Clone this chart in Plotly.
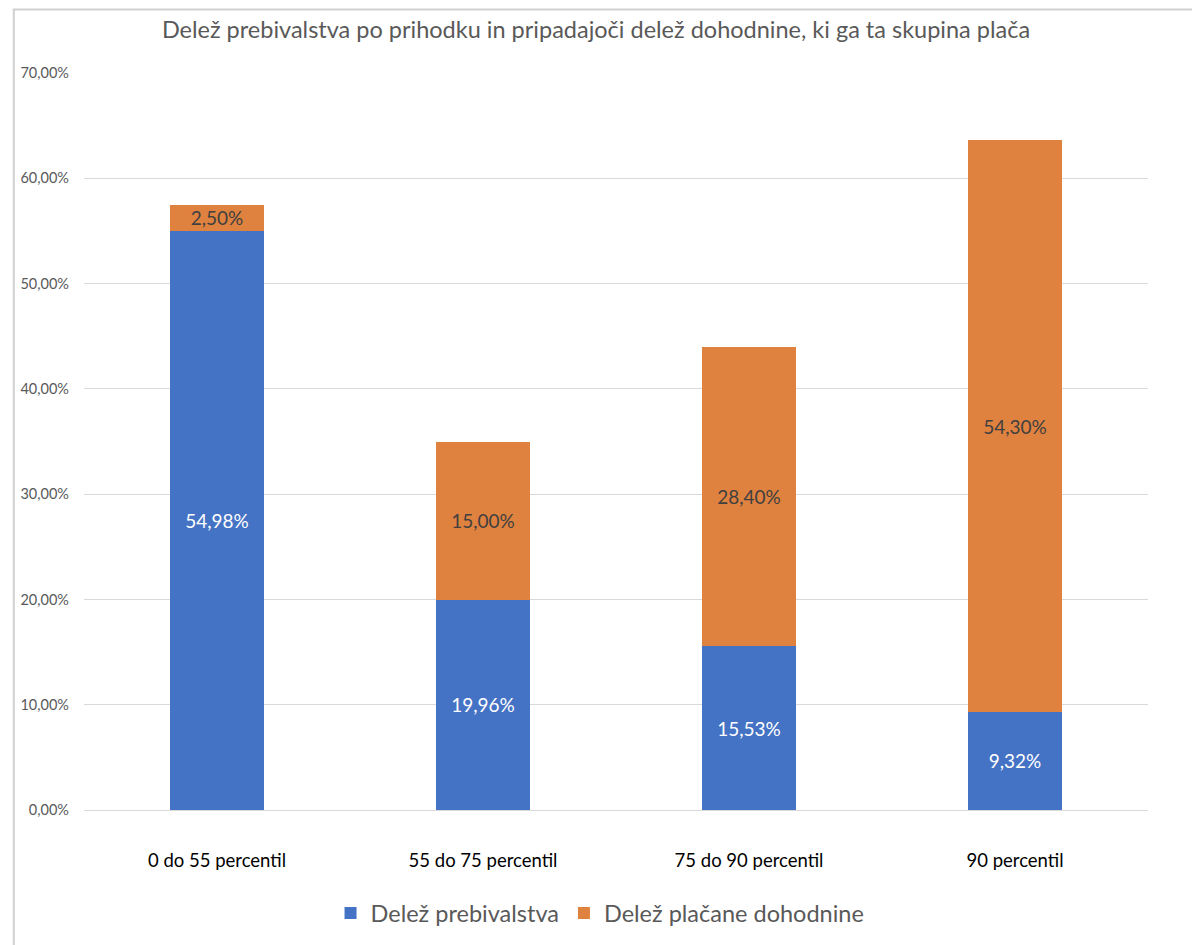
import plotly.graph_objects as go

kategorije = ["0 do 55 percentil", "55 do 75 percentil", "75 do 90 percentil", "90 percentil"]
delez_prebivalstva = [54.98, 19.96, 15.53, 9.32]
delez_dohodnine = [2.50, 15.00, 28.40, 54.30]

modra = "#4472C4"
oranzna = "#E0823F"
pisava = "Lato, 'Open Sans', sans-serif"

fig = go.Figure()
fig.add_trace(go.Bar(
    x=kategorije, y=delez_prebivalstva, name="Delež prebivalstva",
    marker_color=modra, marker_line_width=0,
    texttemplate="%{y:.2f}%", textposition="inside", insidetextanchor="middle",
    textfont=dict(color="white", size=19, family=pisava), hoverinfo="skip",
))
fig.add_trace(go.Bar(
    x=kategorije, y=delez_dohodnine, name="Delež plačane dohodnine",
    marker_color=oranzna, marker_line_width=0,
    texttemplate="%{y:.2f}%", textposition="inside", insidetextanchor="middle",
    textfont=dict(color="#404040", size=19, family=pisava), hoverinfo="skip",
))

# stran ima 8px odmika v body, zato so robovi zamaknjeni
fig.update_layout(
    barmode="stack",
    bargap=0.645,
    separators=",.",
    width=1200, height=945,
    margin=dict(l=71, r=60, t=65, b=143),
    paper_bgcolor="white", plot_bgcolor="white",
    font=dict(family=pisava, color="#595959"),
    uniformtext=dict(minsize=19, mode="show"),
    title=dict(
        text="Delež prebivalstva po prihodku in pripadajoči delež dohodnine, ki ga ta skupina plača",
        x=0.49, xanchor="center", y=0.977, yanchor="middle", yref="container",
        font=dict(size=23.5, color="#595959", family=pisava),
    ),
    legend=dict(
        orientation="h", x=0.485, xanchor="center", y=-0.14, yanchor="middle",
        font=dict(size=23.5, color="#595959", family=pisava),
        itemwidth=30, traceorder="normal",
    ),
    shapes=[dict(
        type="rect", xref="paper", yref="paper",
        x0=-0.066, x1=1.044, y0=-0.2, y1=1.086,
        line=dict(color="#d0d0d0", width=2), fillcolor="rgba(0,0,0,0)", layer="below",
    )],
)

fig.update_yaxes(
    range=[0, 70], dtick=10, tickformat=".2f", ticksuffix="%",
    showgrid=True, gridcolor="#d9d9d9", gridwidth=1,
    zeroline=True, zerolinecolor="#d9d9d9", zerolinewidth=1,
    showline=False, ticks="", ticklabelstandoff=14,
    tickfont=dict(size=14.5, color="#595959", family=pisava),
)
fig.update_xaxes(
    showline=False, ticks="", showgrid=False, ticklabelstandoff=37,
    tickfont=dict(size=18.5, color="#000000", family=pisava),
)

fig.write_html("out.html")
